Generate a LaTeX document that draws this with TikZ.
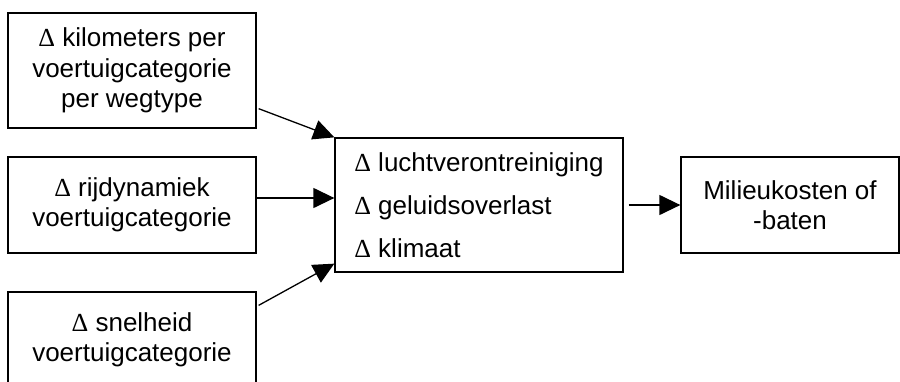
\documentclass[tikz,border=0pt]{standalone}
\usepackage{fontspec}
\setmainfont{Liberation Sans}
\newfontfamily\deltafont{Liberation Serif}
\newcommand{\dlt}{{\deltafont Δ}}
\usetikzlibrary{arrows.meta,calc}
\begin{document}
\begin{tikzpicture}[x=1pt,y=-1pt,
  box/.style={draw=black,line width=1.3pt,inner sep=0pt,align=center,
    font=\fontsize{26}{30.5}\selectfont},
  arr/.style={line width=1.3pt,-{Triangle[length=21pt,width=20pt]}}]
\useasboundingbox (0,0) rectangle (900,381);
\node[box,minimum width=248pt,minimum height=115pt] (b1) at (132,70.5)
  {\dlt{} kilometers per\\voertuigcategorie\\per wegtype};
\node[box,minimum width=248pt,minimum height=96pt] (b2) at (132,205)
  {\dlt{} rijdynamiek\\voertuigcategorie};
\node[box,minimum width=248pt,minimum height=96pt] (b3) at (132,340)
  {\dlt{} snelheid\\voertuigcategorie};
\node[box,minimum width=288pt,minimum height=134pt,align=left,
  font=\fontsize{26}{43}\selectfont] (m) at (479,205)
  {\dlt{} luchtverontreiniging\\\dlt{} geluidsoverlast\\\dlt{} klimaat};
\node[box,minimum width=218pt,minimum height=96pt] (r) at (790,205)
  {Milieukosten of\\-baten};
\draw[arr] ([xshift=2pt,yshift=20pt]b1.south east) -- (m.north west);
\draw[arr] ([yshift=7pt]b2.east) -- ([yshift=7pt]m.west);
\draw[arr] ([xshift=2pt,yshift=-14pt]b3.north east) -- ([yshift=9pt]m.south west);
\draw[arr] ([xshift=5pt]m.east) -- (r.west);
\end{tikzpicture}
\end{document}
